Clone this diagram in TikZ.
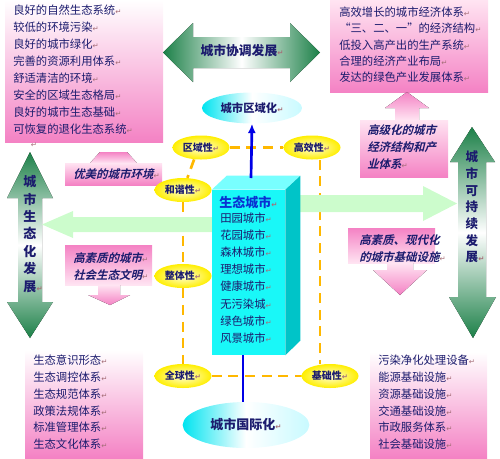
\documentclass[tikz,border=0pt]{standalone}
\usepackage{fontspec}
\setmainfont{Noto Sans CJK SC}
\newfontfamily\cjkit{Noto Sans CJK SC Bold}[FakeSlant=0.25]
\newfontfamily\pmkfont{DejaVu Sans}
\usetikzlibrary{shapes.geometric}
\usetikzlibrary{arrows.meta}

\definecolor{txtnavy}{RGB}{28,28,110}
\definecolor{titleblue}{RGB}{10,50,210}
\definecolor{pinkD}{RGB}{244,130,196}
\definecolor{pinkL}{RGB}{255,228,242}
\definecolor{greenD}{RGB}{28,128,72}
\definecolor{greenP}{RGB}{204,252,204}
\definecolor{cubeF}{RGB}{25,248,248}
\definecolor{cubeT}{RGB}{120,255,255}
\definecolor{cubeS}{RGB}{0,196,200}
\definecolor{ellcyan}{RGB}{0,228,240}
\definecolor{ellcyanL}{RGB}{200,250,255}
\definecolor{yellE}{RGB}{255,238,0}
\definecolor{yellL}{RGB}{255,255,215}
\definecolor{dashor}{RGB}{255,184,0}
\definecolor{lineblue}{RGB}{0,0,230}
\definecolor{pmk}{RGB}{165,110,120}

\newcommand\retmark{{\pmkfont\fontsize{5.5}{5.5}\selectfont\textcolor{pmk}{\char"21B5}}}

\tikzset{
  txt/.style={inner sep=0pt, text=txtnavy},
  listtxt/.style={txt, anchor=north west, align=left},
  yell/.style={ellipse, minimum width=42.75pt, minimum height=18pt, inner sep=0pt, inner color=yellL, outer color=yellE, text=txtnavy, font=\bfseries\fontsize{7.5}{9}\selectfont},
  cyanell/.style={ellipse, inner sep=0pt, left color=ellcyan, right color=ellcyanL, middle color=white, text=txtnavy},
  dashln/.style={draw=dashor, line width=2pt, dash pattern=on 7.5pt off 5pt},
  blueln/.style={draw=lineblue, line width=2pt},
  calltxt/.style={txt, anchor=north west, align=left, font=\cjkit\fontsize{8.6}{12.4}\selectfont},
  bigarrow/.style={top color=greenD, bottom color=greenD, middle color=white},
}

\begin{document}
\begin{tikzpicture}[x=0.75pt,y=0.75pt,yscale=-1,xscale=1]
\useasboundingbox (0,0) rectangle (500,458);

%Shape: Rectangle (list boxes)
\fill[top color=white, bottom color=pinkD] (5,0) rectangle (163,142);
\fill[top color=pinkL, bottom color=pinkD] (330,0) rectangle (488,92);
\fill[top color=white, bottom color=pinkD] (25,350) rectangle (143,458);
\fill[top color=white, bottom color=pinkD] (370,352) rectangle (487,458);

%Shape: Double Arrow
\fill[left color=greenD, right color=greenD, middle color=white] (163,52.5) -- (193,23) -- (193,37) -- (290,37) -- (290,23) -- (320,52.5) -- (290,82) -- (290,68) -- (193,68) -- (193,82) -- cycle;
\fill[bigarrow] (30,152) -- (53,198) -- (42,198) -- (42,302) -- (53,302) -- (30,338) -- (7,302) -- (18,302) -- (18,198) -- (7,198) -- cycle;
\fill[bigarrow] (472,127) -- (495,162) -- (486,162) -- (486,297) -- (496,297) -- (473,338) -- (449,297) -- (458,297) -- (458,162) -- (450,162) -- cycle;

%Shape: Callouts
\fill[top color=pinkD, bottom color=pinkL] (100,152) -- (127,152) -- (137,163) -- (90,163) -- cycle;
\fill[top color=pinkL, bottom color=pinkD] (65,163) rectangle (162,185);
\fill[top color=pinkD, bottom color=pinkL] (65,245) rectangle (152,285);
\fill[top color=pinkL, bottom color=pinkD] (98,285) -- (120,285) -- (120,295) -- (130,295) -- (110,305) -- (88,295) -- (98,295) -- cycle;
\fill[top color=pinkD, bottom color=pinkL] (407,92) -- (429,108) -- (419,108) -- (419,120) -- (395,120) -- (395,108) -- (385,108) -- cycle;
\fill[top color=pinkL, bottom color=pinkD] (360,120) rectangle (448,177);
\fill[top color=pinkD, bottom color=pinkL] (348,228) rectangle (435,263);
\fill[top color=pinkL, bottom color=pinkD] (387,263) -- (413,263) -- (413,270) -- (427,270) -- (400,295) -- (373,270) -- (387,270) -- cycle;

%Shape: Ellipse
\node[cyanell, minimum width=75pt, minimum height=23.25pt, font=\bfseries\fontsize{8.5}{10}\selectfont] (quyuhua) at (252,108) {城市区域化\retmark};
\node[cyanell, minimum width=95pt, minimum height=34.5pt, font=\bfseries\fontsize{9.75}{11}\selectfont] (guojihua) at (246,425) {城市国际化\retmark};
\node[yell] (quyu) at (201,147.5) {区域性\retmark};
\node[yell] (gaoxiao) at (312,147.5) {高效性\retmark};
\node[yell] (hexie) at (183,190) {和谐性\retmark};
\node[yell] (zhengti) at (183,276) {整体性\retmark};
\node[yell] (quanqiu) at (183,376) {全球性\retmark};
\node[yell] (jichu) at (330,376) {基础性\retmark};

%Straight Lines (dashed)
\draw[dashln] (quyu.east) -- (gaoxiao.west);
\draw[dashln] (quyu.240) -- (hexie.70);
\draw[dashln] (hexie.south) -- (zhengti.north);
\draw[dashln] (zhengti.south) -- (quanqiu.north);
\draw[dashln] (quanqiu.east) -- (jichu.west);
\coordinate (dashR) at (320,0);
\draw[dashln] (gaoxiao.south -| dashR) -- (jichu.north -| dashR);

%Shape: Arrow (pale)
\fill[greenP] (212,217) -- (73,217) -- (73,211) -- (42,224.5) -- (73,238) -- (73,232) -- (212,232) -- cycle;
\fill[greenP] (300,195) -- (423,195) -- (423,186) -- (457,203.5) -- (423,221) -- (423,212) -- (300,212) -- cycle;

%Shape: Cube
\node[fill=cubeF, minimum width=54.75pt, minimum height=123.75pt, inner sep=0pt] (cube) at (248.5,272.5) {};
\fill[cubeT] (cube.north west) -- ++(15,-14) -- ++(73,0) -- (cube.north east) -- cycle;
\fill[cubeS] (cube.north east) -- ++(15,-14) -- ++(0,165) -- (cube.south east) -- cycle;

%Straight Lines (blue)
\coordinate (cubetop) at (251,178);
\draw[blueln,-{Latex[length=7pt,width=6pt]}] (cubetop) -- (quyuhua.south);
\coordinate (cubebot) at (243,355);
\draw[blueln] (cubebot) -- (cubebot |- guojihua.north);

% Text Node
\node[listtxt, font=\fontsize{8.5}{12.7}\selectfont] (envlist) at (13,4.8) {良好的自然生态系统\retmark\\较低的环境污染\retmark\\良好的城市绿化\retmark\\完善的资源利用体系\retmark\\舒适清洁的环境\retmark\\安全的区域生态格局\retmark\\良好的城市生态基础\retmark\\可恢复的退化生态系统\retmark};
% Text Node
\node[txt] (straymark) at (34,145) {\retmark};
% Text Node
\node[listtxt, font=\fontsize{8.5}{12.2}\selectfont] (econlist) at (339,6.8) {高效增长的城市经济体系\retmark\\“三、二、一”的经济结构\retmark\\低投入高产出的生产系统\retmark\\合理的经济产业布局\retmark\\发达的绿色产业发展体系\retmark};
% Text Node
\node[listtxt, font=\fontsize{8.5}{12.6}\selectfont] (culturelist) at (33,354.8) {生态意识形态\retmark\\生态调控体系\retmark\\生态规范体系\retmark\\政策法规体系\retmark\\标准管理体系\retmark\\生态文化体系\retmark};
% Text Node
\node[listtxt, font=\fontsize{8.5}{12.6}\selectfont] (infralist) at (378,354.8) {污染净化处理设备\retmark\\能源基础设施\retmark\\资源基础设施\retmark\\交通基础设施\retmark\\市政服务体系\retmark\\社会基础设施\retmark};
% Text Node
\node[txt, anchor=west, text=titleblue, font=\bfseries\fontsize{9.75}{11}\selectfont] (ecotitle) at (219,202) {生态城市\retmark};
% Text Node
\node[listtxt, font=\fontsize{8.5}{12.8}\selectfont] (ecolist) at (220,212.8) {田园城市\retmark\\花园城市\retmark\\森林城市\retmark\\理想城市\retmark\\健康城市\retmark\\无污染城\retmark\\绿色城市\retmark\\风景城市\retmark};
% Text Node
\node[txt, font=\bfseries\fontsize{9.6}{11}\selectfont] (coord) at (242,51) {城市协调发展\retmark};
% Text Node
\node[txt, align=center, font=\bfseries\fontsize{9.75}{13.1}\selectfont] (leftvert) at (30,234) {城\\市\\生\\态\\化\\发\\展\rlap{\retmark}};
% Text Node
\node[txt, align=center, font=\bfseries\fontsize{9.4}{12.5}\selectfont] (rightvert) at (472,207) {城\\市\\可\\持\\续\\发\\展\rlap{\retmark}};
% Text Node
\node[txt, anchor=west, font=\cjkit\fontsize{8.6}{12.4}\selectfont] (youmei) at (73,174) {优美的城市环境\retmark};
% Text Node
\node[calltxt, font=\cjkit\fontsize{8.6}{12.75}\selectfont] (suzhi) at (73,252.8) {高素质的城市\retmark\\社会生态文明\retmark};
% Text Node
\node[calltxt] (gaoji) at (367,124.8) {高级化的城市\\经济结构和产\\业体系\retmark};
% Text Node
\node[calltxt] (xiandai) at (359,234.8) {高素质、现代化\\的城市基础设施\retmark};

\end{tikzpicture}
\end{document}
